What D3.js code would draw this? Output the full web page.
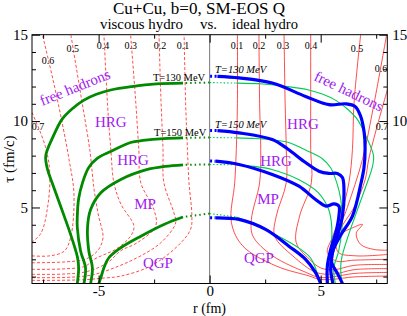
<!DOCTYPE html>
<html lang="en">
<head>
<meta charset="utf-8">
<title>Cu+Cu freeze-out</title>
<script src="https://d3js.org/d3.v7.min.js"></script>
<style>
  body { margin: 0; background: #fff; }
</style>
</head>
<body>
<svg id="chart" width="407" height="316"></svg>
<script>

// data (r in fm, tau in fm/c) *****************************

const velocityLevels = ["0.1", "0.2", "0.3", "0.4", "0.5", "0.6", "0.7"]
const isothermNames = ["T=130 MeV", "T=150 MeV"]
const regionNames = ["free hadrons", "HRG", "HRG", "MP", "QGP"]

// viscous hydro isotherms, stored with r >= 0 (drawn mirrored on the left, thin on the right)
const viscT130 = [[0,12.23],[1.2,12.2],[2.4,12.15],[3.5,12.0],[4.46,11.8],[5.1,11.55],[5.68,11.2],[6.2,10.7],[6.65,10.1],[7.05,9.1],[7.38,8.0],[7.32,7.3],[7.0,6.1],[6.55,4.5],[6.2,3.2],[5.95,2.1],[5.9,1.5],[5.96,0.6]]
const viscT150 = [[0,9.05],[1.2,9.03],[2.07,8.99],[3.0,8.88],[3.56,8.76],[4.46,8.24],[5.05,7.85],[5.45,7.3],[5.72,6.45],[5.9,5.5],[5.96,4.5],[5.96,3.84],[5.81,2.47],[5.59,1.51],[5.66,0.6]]
const viscMix = [[0,7.49],[1.2,7.47],[2.0,7.38],[2.8,7.2],[4.0,6.62],[4.9,5.85],[5.36,4.88],[5.5,3.83],[5.44,2.47],[5.28,1.51],[5.36,0.6]]
const viscQGP = [[0,4.65],[1.2,4.45],[2.06,4.02],[3.1,3.34],[4.0,2.67],[4.54,2.09],[4.76,1.51],[4.9,0.94],[4.99,0.6]]

// ideal hydro isotherms
const idealT130 = [[0.02,12.6],[0.35,12.59],[1.32,12.5],[2.82,12.2],[4.32,11.43],[5.37,10.95],[6.13,11.0],[6.55,10.85],[6.8,10.28],[6.96,9.32],[7.0,8.4],[6.95,7.3],[6.82,6.43],[6.43,4.5],[5.9,3.4],[5.55,2.5],[5.5,1.8],[5.75,1.2],[5.98,0.6]]
const idealT150 = [[0.02,9.46],[0.35,9.45],[1.32,9.32],[2.82,8.93],[3.5,8.4],[4.32,7.6],[4.92,7.1],[5.37,6.97],[5.75,6.97],[5.98,6.73],[6.05,5.87],[5.98,4.5],[5.75,3.34],[5.5,2.2],[5.45,1.4],[5.55,0.6]]
const idealMix = [[0.02,7.69],[0.27,7.68],[1.32,7.49],[2.82,6.91],[4.02,6.23],[4.77,5.46],[5.23,5.08],[5.6,5.21],[5.82,5.08],[5.82,4.5],[5.68,3.54],[5.45,2.57],[5.3,1.6],[5.3,0.6]]
const idealQGP = [[0.02,4.41],[0.27,4.4],[1.32,4.31],[2.52,3.73],[3.57,2.76],[4.32,2.0],[4.77,1.23],[5.0,0.6]]

// radial velocity contours, viscous (r >= 0, mirrored to the left, dashed)
const viscVel = [
  [[8,0.78],[6.5,0.79],[5.5,0.83],[4.9,0.9],[4.0,1.03],[2.66,1.61],[1.45,2.76],[0.86,3.73],[0.8,4.5],[0.93,6.43],[1.0,8.35],[1.08,11],[1.15,15]],
  [[8,0.94],[6.5,0.95],[5.5,1.05],[4.9,1.23],[3.41,2.0],[2.2,2.96],[1.53,4.11],[1.61,4.69],[2.06,6.43],[2.1,8.35],[2.2,11.5],[2.28,15]],
  [[8,1.13],[6.5,1.15],[5.5,1.3],[4.6,1.8],[4.0,2.5],[3.26,2.96],[2.43,3.92],[2.51,4.88],[3.1,6.43],[3.19,8.35],[3.35,11.5],[3.56,15]],
  [[8,1.42],[6.5,1.45],[5.6,1.6],[5.2,2.0],[4.7,2.3],[4.2,2.6],[3.56,3.34],[3.41,3.92],[4.0,5.2],[4.31,6.43],[4.45,8.35],[4.6,11],[4.76,15]],
  [[8,1.8],[6.5,1.85],[5.6,2.0],[5.2,2.3],[4.95,2.67],[4.8,3.3],[5.0,4.5],[5.2,6],[5.4,8.35],[5.8,11.5],[6.25,15]],
  [[8,2.2],[7.2,2.2],[6.55,2.47],[6.26,3.26],[6.11,5.75],[6.33,7.77],[6.9,11.5],[7.53,15]],
  [[8,10.5],[7.4,8.54],[7.2,7],[7.3,5],[7.6,3.5],[8,3.0]]
]

// radial velocity contours, ideal (solid)
const idealVel = [
  [[8,1.03],[6.5,0.98],[5.6,0.85],[4.95,0.84],[4.5,1.03],[3.0,1.61],[1.5,2.76],[0.98,4.13],[1.13,6.44],[1.2,8.35],[1.25,11],[1.25,15]],
  [[8,1.24],[6.5,1.18],[5.6,1.0],[4.95,0.95],[4.36,1.23],[2.85,2.19],[1.95,3.34],[1.88,4.31],[2.25,6.43],[2.3,8.35],[2.25,11],[2.22,15]],
  [[8,1.46],[6.5,1.4],[5.6,1.15],[4.8,1.24],[3.75,2.19],[2.93,3.34],[3.0,4.5],[3.45,6.43],[3.45,8.35],[3.4,11],[3.35,15]],
  [[8,1.7],[6.5,1.65],[5.6,1.4],[5.0,1.5],[4.5,2.0],[3.9,2.96],[4.05,4.5],[4.58,6.43],[4.55,8.35],[4.55,11],[4.55,15]],
  [[8,2.0],[6.5,1.95],[5.7,1.9],[5.3,2.4],[5.5,3.2],[5.9,4.5],[6.27,6.43],[6.43,8.35],[6.5,11],[6.8,15]],
  [[8,2.28],[6.6,2.2],[5.8,2.4],[5.7,3.2],[6.2,5],[6.88,7.77],[7.4,11],[7.97,15]],
  [[8,11.8],[7.5,9.5],[7.16,7.77],[7.0,6.6],[6.5,5.0],[6.0,4.0],[5.83,3.5],[6.3,3.75],[6.88,4.02],[6.6,3.5],[6.8,2.86],[7.4,2.57],[8,2.53]]
]

const viscIsotherms = [viscT130, viscT150, viscMix, viscQGP]
const idealIsotherms = [idealT130, idealT150, idealMix, idealQGP]

const xMajor = [-5, 0, 5]
const xMinor = [-7.5, -2.5, 2.5, 7.5]
const yMajor = [5, 10, 15]
const yMinor = [1, 2, 3, 4, 6, 7, 8, 9, 11, 12, 13, 14]

// layout **************************************************

const serif = "'Liberation Serif', 'Times New Roman', 'DejaVu Serif', serif"
const x = d3.scaleLinear().domain([-8, 8]).range([32, 387.3])
const y = d3.scaleLinear().domain([0.6, 15]).range([283.5, 34.7])

const svg = d3.select("#chart")
const violet = "#a020f0"

svg.append("defs").append("clipPath").attr("id", "plot-clip")
  .append("rect")
    .attr("x", x(-8)).attr("y", y(15))
    .attr("width", x(8) - x(-8)).attr("height", y(0.6) - y(15))

const plot = svg.append("g").attr("clip-path", "url(#plot-clip)")

// side = -1 draws on the left half, +1 on the right half
function lineFor(side) {
  return d3.line()
    .x(d => x(side * d[0]))
    .y(d => y(d[1]))
    .curve(d3.curveCatmullRom.alpha(0.5))
}

// r = 0 line
plot.append("line")
  .attr("x1", x(0)).attr("x2", x(0))
  .attr("y1", y(15)).attr("y2", y(0.6))
  .attr("stroke", "#777").attr("stroke-width", 1)

// velocity contours
plot.selectAll("path.vvel")
  .data(viscVel)
  .join("path")
    .attr("class", "vvel")
    .attr("d", lineFor(-1))
    .attr("fill", "none")
    .attr("stroke", "#ff2020")
    .attr("stroke-width", 0.8)
    .attr("stroke-dasharray", "3,2")

plot.selectAll("path.ivel")
  .data(idealVel)
  .join("path")
    .attr("class", "ivel")
    .attr("d", lineFor(1))
    .attr("fill", "none")
    .attr("stroke", "#ff2020")
    .attr("stroke-width", 0.8)

// viscous isotherms mirrored on the right, thin
plot.selectAll("path.vthin")
  .data(viscIsotherms)
  .join("path")
    .attr("class", "vthin")
    .attr("d", d => lineFor(1)(d.slice(1)))
    .attr("fill", "none")
    .attr("stroke", "#00cc55")
    .attr("stroke-width", 1.1)

plot.selectAll("path.vthin-dot")
  .data(viscIsotherms)
  .join("path")
    .attr("class", "vthin-dot")
    .attr("d", d => lineFor(1)(d.slice(0, 2)))
    .attr("fill", "none")
    .attr("stroke", "#00cc55")
    .attr("stroke-width", 1.1)
    .attr("stroke-dasharray", "1.5,2")

// ideal isotherms, thick blue
plot.selectAll("path.ideal")
  .data(idealIsotherms)
  .join("path")
    .attr("class", "ideal")
    .attr("d", d => lineFor(1)(d.slice(1)))
    .attr("fill", "none")
    .attr("stroke", "#0000ff")
    .attr("stroke-width", 3.2)
    .attr("stroke-linejoin", "round")

plot.selectAll("path.ideal-dot")
  .data(idealIsotherms)
  .join("path")
    .attr("class", "ideal-dot")
    .attr("d", d => lineFor(1)(d.slice(0, 2)))
    .attr("fill", "none")
    .attr("stroke", "#0000ff")
    .attr("stroke-width", 3)
    .attr("stroke-dasharray", "2,2.5")

// viscous isotherms on the left, thick green
plot.selectAll("path.visc")
  .data(viscIsotherms)
  .join("path")
    .attr("class", "visc")
    .attr("d", d => lineFor(-1)(d.slice(1)))
    .attr("fill", "none")
    .attr("stroke", "#008a00")
    .attr("stroke-width", 2.8)
    .attr("stroke-linejoin", "round")

plot.selectAll("path.visc-dot")
  .data(viscIsotherms)
  .join("path")
    .attr("class", "visc-dot")
    .attr("d", d => lineFor(-1)(d.slice(0, 2)))
    .attr("fill", "none")
    .attr("stroke", "#008a00")
    .attr("stroke-width", 2)
    .attr("stroke-dasharray", "1.5,3")

// velocity labels
const velLeftPos = [[-1.2,14.4],[-2.24,14.4],[-3.55,14.4],[-4.8,14.4],[-6.16,14.23],[-7.28,13.48],[-7.73,9.66]]
const velRightPos = [[1.23,14.4],[2.22,14.4],[3.3,14.4],[4.56,14.4],[6.63,14.23],[7.72,13.07],[7.76,9.66]]

function velLabels(pos, cls) {
  svg.selectAll("text." + cls)
    .data(velocityLevels)
    .join("text")
      .attr("class", cls)
      .attr("x", (d, i) => x(pos[i][0]))
      .attr("y", (d, i) => y(pos[i][1]))
      .attr("dy", "0.35em")
      .attr("text-anchor", "middle")
      .attr("font-size", 10)
      .attr("fill", "#000")
      .text(d => d)
}
velLabels(velLeftPos, "vl")
velLabels(velRightPos, "vr")

// isotherm labels
svg.append("text").attr("x", x(-0.2)).attr("y", y(12.33)).attr("text-anchor", "end")
  .attr("font-size", 10.5).text(isothermNames[0])
svg.append("text").attr("x", x(-0.15)).attr("y", y(9.12)).attr("text-anchor", "end")
  .attr("font-size", 10.5).text(isothermNames[1])
svg.append("text").attr("x", x(0.24)).attr("y", y(12.78)).attr("text-anchor", "start")
  .attr("font-size", 10.5).attr("font-style", "italic").text(isothermNames[0])
svg.append("text").attr("x", x(0.24)).attr("y", y(9.62)).attr("text-anchor", "start")
  .attr("font-size", 10.5).attr("font-style", "italic").text(isothermNames[1])

// region labels
const regionLeft = [[-6.07,11.97,-22],[-4.45,9.95,0],[-3.45,7.75,0],[-2.91,5.2,0],[-2.33,1.78,0]]
const regionRight = [[6.27,11.74,25.6],[4.2,9.83,0],[2.99,7.69,0],[2.63,5.49,0],[2.22,2.07,0]]

function regionText(pos, cls) {
  svg.selectAll("text." + cls)
    .data(regionNames)
    .join("text")
      .attr("class", cls)
      .attr("transform", (d, i) => `translate(${x(pos[i][0])},${y(pos[i][1])}) rotate(${pos[i][2]})`)
      .attr("dy", "0.35em")
      .attr("text-anchor", "middle")
      .attr("font-size", 15)
      .attr("fill", violet)
      .text(d => d)
}
regionText(regionLeft, "rl")
regionText(regionRight, "rr")

// axes ****************************************************

function tidy(g) {
  g.select(".domain").remove()
  g.attr("font-family", null).attr("font-size", null)
  g.selectAll("text").attr("font-size", 15).attr("fill", "#000")
}

const fmt = d => String(d)

svg.append("g").attr("transform", `translate(${x(-8)},0)`)
  .call(d3.axisLeft(y).tickValues(yMajor).tickSizeInner(-8).tickSizeOuter(0).tickPadding(4).tickFormat(fmt))
  .call(tidy)
svg.append("g").attr("transform", `translate(${x(-8)},0)`)
  .call(d3.axisLeft(y).tickValues(yMinor).tickSizeInner(-4).tickSizeOuter(0).tickFormat(""))
  .call(tidy)

svg.append("g").attr("transform", `translate(${x(8)},0)`)
  .call(d3.axisRight(y).tickValues(yMajor).tickSizeInner(-8).tickSizeOuter(0).tickPadding(5).tickFormat(fmt))
  .call(tidy)
svg.append("g").attr("transform", `translate(${x(8)},0)`)
  .call(d3.axisRight(y).tickValues(yMinor).tickSizeInner(-4).tickSizeOuter(0).tickFormat(""))
  .call(tidy)

svg.append("g").attr("transform", `translate(0,${y(0.6)})`)
  .call(d3.axisBottom(x).tickValues(xMajor).tickSizeInner(-8).tickSizeOuter(0).tickPadding(2).tickFormat(fmt))
  .call(tidy)
svg.append("g").attr("transform", `translate(0,${y(0.6)})`)
  .call(d3.axisBottom(x).tickValues(xMinor).tickSizeInner(-4).tickSizeOuter(0).tickFormat(""))
  .call(tidy)

svg.append("g").attr("transform", `translate(0,${y(15)})`)
  .call(d3.axisTop(x).tickValues(xMajor).tickSizeInner(-8).tickSizeOuter(0).tickFormat(""))
  .call(tidy)
svg.append("g").attr("transform", `translate(0,${y(15)})`)
  .call(d3.axisTop(x).tickValues(xMinor).tickSizeInner(-4).tickSizeOuter(0).tickFormat(""))
  .call(tidy)

// frame
svg.append("rect")
  .attr("x", x(-8)).attr("y", y(15))
  .attr("width", x(8) - x(-8)).attr("height", y(0.6) - y(15))
  .attr("fill", "none").attr("stroke", "#000").attr("stroke-width", 1)

// titles
svg.append("text").attr("x", 113).attr("y", 14).attr("font-size", 16)
  .attr("textLength", 172).attr("lengthAdjust", "spacingAndGlyphs")
  .text("Cu+Cu, b=0, SM-EOS Q")
svg.append("text").attr("x", 100).attr("y", 29).attr("font-size", 15)
  .attr("textLength", 83).attr("lengthAdjust", "spacingAndGlyphs").text("viscous hydro")
svg.append("text").attr("x", 200).attr("y", 29).attr("font-size", 15).text("vs.")
svg.append("text").attr("x", 232).attr("y", 29).attr("font-size", 15)
  .attr("textLength", 66).attr("lengthAdjust", "spacingAndGlyphs").text("ideal hydro")

svg.append("text").attr("x", 209.5).attr("y", 313).attr("text-anchor", "middle")
  .attr("font-size", 14).text("r (fm)")
svg.append("text")
  .attr("transform", `translate(14,${(y(15) + y(0.6)) / 2}) rotate(-90)`)
  .attr("text-anchor", "middle")
  .attr("font-size", 15).text("τ (fm/c)")

svg.selectAll("text").style("font-family", serif)

</script>
</body>
</html>
